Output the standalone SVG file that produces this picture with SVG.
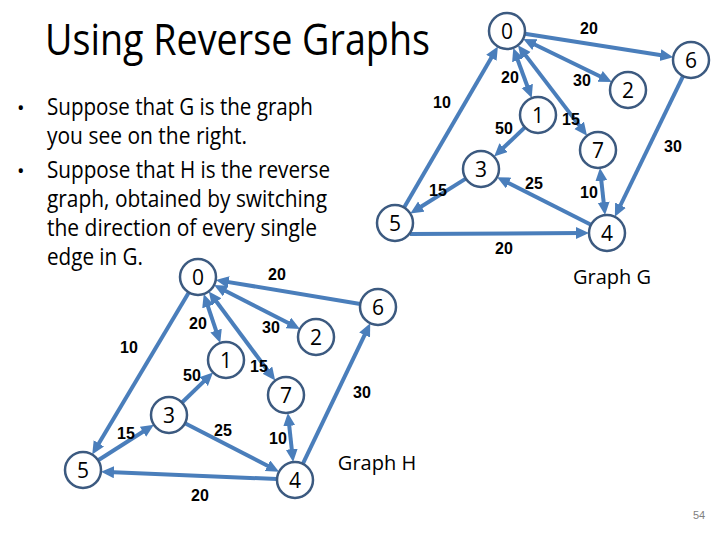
<svg xmlns="http://www.w3.org/2000/svg" width="720" height="540" viewBox="0 0 720 540">
<style>
.title{font-family:"Open Sans","Noto Sans",sans-serif;font-size:44px;fill:#000}
.body{font-family:"Open Sans","Noto Sans",sans-serif;font-size:23px;fill:#000}
.node circle{fill:#fff;stroke:#3c5a80;stroke-width:2.5}
.node text{font-family:"Open Sans","Noto Sans",sans-serif;font-size:21px;fill:#000;text-anchor:middle}
.edges line{stroke:#4a7ebb;stroke-width:4}
.one{marker-end:url(#ah)}
.two{marker-end:url(#ah);marker-start:url(#ahs)}
.lbl{font-family:"Liberation Sans",Arial,sans-serif;font-weight:bold;font-size:16px;fill:#000;text-anchor:middle}
.cap{font-family:"Open Sans","Noto Sans",sans-serif;font-size:20px;fill:#000;text-anchor:middle}
</style>
<defs>
<marker id="ah" markerUnits="userSpaceOnUse" markerWidth="14" markerHeight="14" refX="6" refY="6" orient="auto"><path d="M0,0 L13,6 L0,12 z" fill="#4a7ebb"/></marker>
<marker id="ahs" markerUnits="userSpaceOnUse" markerWidth="14" markerHeight="14" refX="6" refY="6" orient="auto-start-reverse"><path d="M0,0 L13,6 L0,12 z" fill="#4a7ebb"/></marker>
</defs>
<rect width="720" height="540" fill="#fff"/>
<text class="title" x="45" y="55" textLength="385" lengthAdjust="spacingAndGlyphs">Using Reverse Graphs</text>
<g class="body">
<text x="17" y="115" font-size="20">•</text>
<text x="47" y="115" textLength="266" lengthAdjust="spacingAndGlyphs">Suppose that G is the graph</text>
<text x="47" y="144" textLength="200" lengthAdjust="spacingAndGlyphs">you see on the right.</text>
<text x="17" y="178" font-size="20">•</text>
<text x="47" y="178" textLength="283" lengthAdjust="spacingAndGlyphs">Suppose that H is the reverse</text>
<text x="47" y="207" textLength="280" lengthAdjust="spacingAndGlyphs">graph, obtained by switching</text>
<text x="47" y="236" textLength="270" lengthAdjust="spacingAndGlyphs">the direction of every single</text>
<text x="47" y="265" textLength="96" lengthAdjust="spacingAndGlyphs">edge in G.</text>
</g>
<g id="connectors" class="edges">
<!-- Graph G -->
<line class="one" x1="524.8" y1="33.8" x2="666.3" y2="56.1"/>
<line class="two" x1="529.5" y1="42" x2="605.5" y2="79"/>
<line class="two" x1="515.7" y1="54.5" x2="529.3" y2="91.5"/>
<line class="two" x1="522.2" y1="50.9" x2="582.8" y2="130.1"/>
<line class="one" x1="404.1" y1="207.5" x2="494.4" y2="52.6"/>
<line class="one" x1="524.9" y1="127.4" x2="499.2" y2="151.8"/>
<line class="one" x1="465.8" y1="178.6" x2="416.2" y2="209.7"/>
<line class="one" x1="591" y1="224.8" x2="503.3" y2="180.3"/>
<line class="two" x1="600.7" y1="174.9" x2="604.3" y2="208.1"/>
<line class="one" x1="683.1" y1="76.2" x2="617.9" y2="210.5"/>
<line class="one" x1="410" y1="234" x2="582" y2="233"/>
<!-- Graph H -->
<line class="one" x1="360.3" y1="304" x2="222.7" y2="281.1"/>
<line class="two" x1="220.3" y1="288.3" x2="293.7" y2="325.7"/>
<line class="two" x1="206" y1="300.7" x2="218" y2="336.3"/>
<line class="two" x1="213" y1="297" x2="271" y2="375"/>
<line class="one" x1="188.8" y1="292.5" x2="95.8" y2="448.5"/>
<line class="one" x1="182" y1="402.5" x2="208" y2="377.4"/>
<line class="one" x1="98.2" y1="460.3" x2="148" y2="428.5"/>
<line class="one" x1="185" y1="423.2" x2="272.8" y2="468.5"/>
<line class="two" x1="288.6" y1="419.9" x2="292.4" y2="455.1"/>
<line class="one" x1="302.8" y1="463.8" x2="367.2" y2="329.6"/>
<line class="one" x1="277" y1="479" x2="108" y2="472"/>
</g>
<g class="lbl">
<text x="589" y="34">20</text><text x="510" y="83">20</text><text x="582" y="86">30</text>
<text x="442" y="108">10</text><text x="504" y="134">50</text><text x="571" y="125">15</text>
<text x="673" y="152">30</text><text x="438" y="196">15</text><text x="534" y="189">25</text>
<text x="589" y="198">10</text><text x="504" y="254">20</text>
<text x="277" y="280">20</text><text x="198" y="329">20</text><text x="271" y="333">30</text>
<text x="129" y="353">10</text><text x="192" y="381">50</text><text x="259" y="372">15</text>
<text x="362" y="398">30</text><text x="126" y="439">15</text><text x="223" y="436">25</text>
<text x="278" y="444">10</text><text x="200" y="501">20</text>
</g>
<!-- Graph G nodes -->
<g id="g0" class="node"><circle cx="507" cy="31" r="18"/><text x="507" y="38.5">0</text></g>
<g id="g6" class="node"><circle cx="691" cy="60" r="18"/><text x="691" y="67.5">6</text></g>
<g id="g2" class="node"><circle cx="628" cy="90" r="18"/><text x="628" y="97.5">2</text></g>
<g id="g1" class="node"><circle cx="538" cy="115" r="18"/><text x="538" y="122.5">1</text></g>
<g id="g7" class="node"><circle cx="598" cy="150" r="18"/><text x="598" y="157.5">7</text></g>
<g id="g3" class="node"><circle cx="481" cy="169" r="18"/><text x="481" y="176.5">3</text></g>
<g id="g5" class="node"><circle cx="395" cy="223" r="18"/><text x="395" y="230.5">5</text></g>
<g id="g4" class="node"><circle cx="607" cy="233" r="18"/><text x="607" y="240.5">4</text></g>
<!-- Graph H nodes -->
<g id="h0" class="node"><circle cx="198" cy="277" r="18"/><text x="198" y="284.5">0</text></g>
<g id="h6" class="node"><circle cx="378" cy="307" r="18"/><text x="378" y="314.5">6</text></g>
<g id="h2" class="node"><circle cx="316" cy="337" r="18"/><text x="316" y="344.5">2</text></g>
<g id="h1" class="node"><circle cx="226" cy="360" r="18"/><text x="226" y="367.5">1</text></g>
<g id="h7" class="node"><circle cx="286" cy="395" r="18"/><text x="286" y="402.5">7</text></g>
<g id="h3" class="node"><circle cx="169" cy="415" r="18"/><text x="169" y="422.5">3</text></g>
<g id="h5" class="node"><circle cx="83" cy="470" r="18"/><text x="83" y="477.5">5</text></g>
<g id="h4" class="node"><circle cx="295" cy="480" r="18"/><text x="295" y="487.5">4</text></g>
<text class="cap" x="612" y="284">Graph G</text>
<text class="cap" x="377" y="470">Graph H</text>
<text x="699" y="519" font-family="Liberation Sans,Arial,sans-serif" font-size="11" fill="#7f7f7f" text-anchor="middle">54</text>
</svg>
